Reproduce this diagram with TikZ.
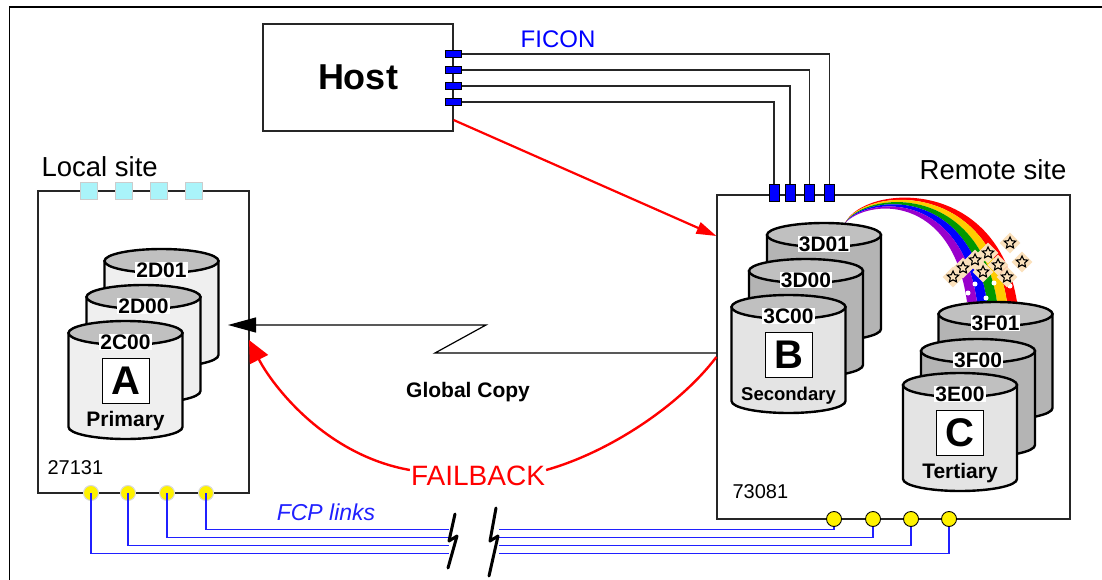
\documentclass[tikz,border=0pt]{standalone}
\usepackage{fontspec}
\setmainfont{Liberation Sans}
\usepackage{tikz}
\usepackage{xcolor}
\usetikzlibrary{positioning}
\usetikzlibrary{arrows.meta}
\usetikzlibrary{shapes.geometric}

\definecolor{portblue}{HTML}{0000FF}
\definecolor{linkblue}{HTML}{2020FF}
\definecolor{padcyan}{HTML}{AAF4FA}
\definecolor{drumtop}{HTML}{C0C0C0}
\definecolor{drumlight}{HTML}{EFEFEF}
\definecolor{drumfront}{HTML}{E4E4E4}
\definecolor{drumback}{HTML}{B4B4B4}
\definecolor{bowyellow}{HTML}{FFCC00}
\definecolor{bowgreen}{HTML}{009900}
\definecolor{bowpurple}{HTML}{9900CC}
\definecolor{sparkfill}{HTML}{FBE1BC}

\newcommand{\fsz}[1]{\fontsize{#1}{#1}\selectfont}

\tikzset{site/.style={draw=black!85, line width=1.2pt, fill=white, inner sep=0pt},
sitename/.style={font=\fsz{27.5}, inner sep=0pt},
sitenum/.style={font=\fsz{20}, inner sep=0pt},
hostport/.style={draw, line width=1pt, fill=portblue, minimum width=16pt, minimum height=7.5pt, inner sep=0pt},
remoteport/.style={draw, line width=1pt, fill=portblue, minimum width=10pt, minimum height=16pt, inner sep=0pt},
pad/.style={draw=black!20, line width=1pt, fill=padcyan, minimum size=17pt, inner sep=0pt},
ldot/.style={circle, draw=black!15, line width=1pt, fill=yellow, minimum size=15pt, inner sep=0pt},
rdot/.style={circle, draw, line width=0.9pt, fill=yellow, minimum size=15pt, inner sep=0pt},
ficon/.style={draw=black!85, line width=1.2pt},
fcp/.style={draw=linkblue, line width=1.8pt},
bolt/.style={line width=3pt, line cap=round, line join=round},
drum/.style={draw, line width=2.4pt},
drumname/.style={fill=white, inner sep=1pt, font=\fsz{21}\bfseries},
volbox/.style={draw, line width=1pt, fill=white, minimum width=47pt, minimum height=45pt, inner sep=0pt, font=\fsz{40}\bfseries},
voltag/.style={inner sep=0pt, font=\fsz{21}\bfseries},
spark/.style={diamond, fill=sparkfill, minimum size=21pt, inner sep=0pt},
sparkstar/.style={star, star points=5, star point ratio=2.1, draw, line width=1.1pt, minimum size=12pt, inner sep=0pt},
hostlink/.style={draw=red, line width=2.2pt, -{Triangle[length=20pt,width=12pt]}},
gcopy/.style={draw, line width=1.2pt, -{Triangle[length=28pt,width=15pt]}},
failback/.style={draw=red, line width=2.4pt}}

\newcommand{\drawdrum}[5]{%
	\path[drum, fill=#4] ({#2-57},{#3+12}) -- ({#2-57},{#3+106})
		arc[start angle=180, end angle=0, x radius=57, y radius=12]
		-- ({#2+57},{#3+12}) -- cycle;
	\path[drum, fill=drumtop] (#2,{#3+12}) ellipse[x radius=57, y radius=12];
	\node[drumname] (#1) at (#2,{#3+21}) {#5};
}

\begin{document}
\begin{tikzpicture}[x=1pt, y=-1pt]

	\useasboundingbox (0,0) rectangle (1102,580);
	\draw[line width=1.2pt] (1102,7) -- (9.5,7) -- (9.5,580);

	\node[site, minimum width=190pt, minimum height=107pt, font=\fsz{36}\bfseries] (host) at (358,77.5) {Host};
	\node[site, minimum width=211pt, minimum height=302pt] (local) at (143.5,342) {};
	\node[site, minimum width=353pt, minimum height=324pt] (remote) at (893.5,357) {};

	\node[sitename, above right=13pt and 4pt of local.north west] (localname) {Local site};
	\node[sitename, above left=14pt and 4pt of remote.north east] (remotename) {Remote site};
	\node[sitenum, above right=19pt and 10pt of local.south west] (localnum) {27131};
	\node[sitenum, above right=21pt and 16pt of remote.south west] (remotenum) {73081};

	\foreach \i/\y in {1/54,2/70,3/86,4/102}
		\node[hostport] (hp\i) at (host.east |- 0,\y) {};
	\foreach \i/\x in {1/774,2/790,3/809.5,4/829.5}
		\node[remoteport] (rp\i) at (\x,193) {};
	\foreach \i/\j in {1/4,2/3,3/2,4/1}
		\draw[ficon] (hp\i.east) -| (rp\j.north);
	\node[text=portblue, font=\fsz{24}, inner sep=0pt] (ficonname) at (558,39) {FICON};

	\foreach \i/\x in {1/89,2/124,3/159,4/194}
		\node[pad] (lp\i) at (\x,191) {};

	\foreach \k/\c in {0/red,1/bowyellow,2/bowgreen,3/blue,4/bowpurple}
		\fill[\c] (845,223) .. controls ({865+0.6*\k},{184+3*\k}) and ({997-9*\k},{176+3.4*\k}) .. ({1017-10*\k},302)
			-- ({1017-10*(\k+1)},302) .. controls ({997-9*(\k+1)},{176+3.4*(\k+1)}) and ({865+0.6*(\k+1)},{184+3*(\k+1)}) .. (845,223) -- cycle;
	\foreach \x/\y in {968/293,975/284,986/298,994/283,1010/286}
		\fill[white] (\x,\y) circle[radius=2.5];
	\foreach \x/\y [count=\n] in {1010/243,988/253,975/260,963/268,953/277,983/272,998/265,1007/277,1022/262}{
		\node[spark] (spark\n) at (\x,\y) {};
		\node[sparkstar] (star\n) at (spark\n) {};
	}

	\drawdrum{d2d01}{161.5}{249}{drumlight}{2D01}
	\drawdrum{d2d00}{143.5}{285}{drumlight}{2D00}
	\drawdrum{d2c00}{125.5}{321}{drumlight}{2C00}
	\node[volbox, below=7pt of d2c00] (volA) {A};
	\node[voltag, below=7pt of volA] (tagA) {Primary};

	\drawdrum{d3d01}{824}{223}{drumback}{3D01}
	\drawdrum{d3d00}{806}{259}{drumback}{3D00}
	\drawdrum{d3c00}{788.5}{295}{drumfront}{3C00}
	\node[volbox, below=7pt of d3c00] (volB) {B};
	\node[voltag, font=\fsz{18.5}\bfseries, below=9pt of volB] (tagB) {Secondary};

	\drawdrum{d3f01}{995.5}{302}{drumback}{3F01}
	\drawdrum{d3f00}{978}{339}{drumback}{3F00}
	\drawdrum{d3e00}{960}{373}{drumfront}{3E00}
	\node[volbox, below=7pt of d3e00] (volC) {C};
	\node[voltag, below=7pt of volC] (tagC) {Tertiary};

	\draw[hostlink] (host.east |- 0,120) -- (remote.west |- 0,236);

	\coordinate (gctip) at (228,325);
	\draw[gcopy] (remote.west |- 0,353) -- (435,353) -- (486,325) -- (gctip);
	\node[font=\fsz{21}\bfseries, inner sep=0pt] (gcname) at (468,392) {Global Copy};

	\node[text=red, font=\fsz{28}, inner sep=1pt] (fb) at (478,476) {FAILBACK};
	\coordinate (fbtip) at (249,340);
	\draw[failback] (remote.west |- 0,357) .. controls (680,405) and (610,452) .. ([yshift=6pt]fb.east);
	\draw[failback, -{Triangle[length=22pt,width=20pt]}] ([yshift=6pt]fb.west) .. controls (325,455) and (272,385) .. (fbtip);

	\foreach \i/\x/\y in {1/91/553.5,2/128/545.5,3/167/537.5,4/206/529.5}{
		\node[ldot] (ld\i) at (\x,493) {};
		\coordinate (lb\i) at (449,\y);
		\draw[fcp] (ld\i.center) |- (lb\i);
	}
	\foreach \i/\x/\y in {1/834/529.5,2/873/537.5,3/911/545.5,4/949/553.5}{
		\node[rdot] (rd\i) at (\x,519) {};
		\coordinate (rb\i) at (499,\y);
		\draw[fcp] (rb\i) -| (rd\i.south);
	}
	\node[text=linkblue, font=\fsz{23}\itshape, inner sep=0pt] (fcpname) at (326,512) {FCP links};
	\draw[bolt] (455,514) -- (449,541) -- (457,536) -- (448,568);
	\draw[bolt] (496,508) -- (490,541) -- (498,536) -- (489,576);

\end{tikzpicture}
\end{document}
